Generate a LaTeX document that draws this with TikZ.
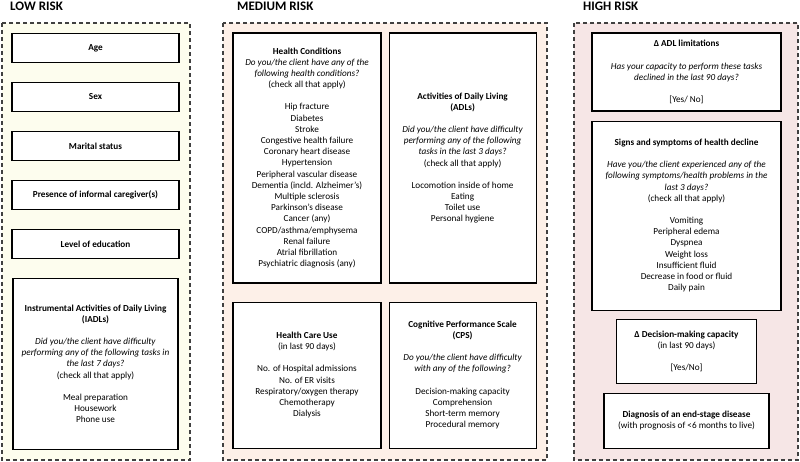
\documentclass[tikz,border=0pt]{standalone}
\usepackage{fontspec}
\setmainfont{Carlito}
\usetikzlibrary{positioning}
\definecolor{lowbg}{HTML}{FDFDEE}
\definecolor{medbg}{HTML}{FDF0E8}
\definecolor{highbg}{HTML}{F6E6E6}
\definecolor{zoneline}{HTML}{404040}

\begin{document}
\begin{tikzpicture}[x=1pt,y=-1pt,
    zone/.style={draw=zoneline,line width=1.1pt,dash pattern=on 4pt off 3pt},
    zone title/.style={anchor=base west,inner sep=0pt,font=\fontsize{13}{15}\selectfont\bfseries},
    item box/.style={draw,fill=white,line width=1.1pt,align=center,inner sep=0pt,
      font=\fontsize{9.2}{11.2}\selectfont},
    low box/.style={item box,minimum width=167pt,minimum height=29.5pt}]
    \useasboundingbox (0,0) rectangle (800,462);

    % risk zones
    \draw[zone,fill=lowbg] (2,23) rectangle (190,460);
    \draw[zone,fill=medbg] (223,23) rectangle (547,460);
    \draw[zone,fill=highbg] (574,23) rectangle (798,460);
    \node[zone title] (lowtitle) at (10,11) {LOW RISK};
    \node[zone title] (medtitle) at (237,11) {MEDIUM RISK};
    \node[zone title] (hightitle) at (583,11) {HIGH RISK};

    % low risk
    \node[low box] (age) at (95.5,48) {\textbf{Age}};
    \node[low box] (sex) [below=18.4pt of age] {\textbf{Sex}};
    \node[low box] (marital) [below=18.4pt of sex] {\textbf{Marital status}};
    \node[low box] (carer) [below=18.4pt of marital] {\textbf{Presence of informal caregiver(s)}};
    \node[low box] (edu) [below=18.4pt of carer] {\textbf{Level of education}};
    \node[item box,minimum width=165pt,minimum height=171pt] (iadl) [below=18.4pt of edu]
      {\textbf{Instrumental Activities of Daily Living}\\ \textbf{(IADLs)}\\[11pt]
       \textit{Did you/the client have difficulty}\\
       \textit{performing any of the following tasks in}\\
       \textit{the last 7 days?}\\ (check all that apply)\\[11pt]
       Meal preparation\\ Housework\\ Phone use};

    % medium risk
    \node[item box,minimum width=148pt,minimum height=250pt] (hc) at (307,158)
      {\textbf{Health Conditions}\\
       \textit{Do you/the client have any of the}\\
       \textit{following health conditions?}\\ (check all that apply)\\[11pt]
       Hip fracture\\ Diabetes\\ Stroke\\ Congestive health failure\\
       Coronary heart disease\\ Hypertension\\ Peripheral vascular disease\\
       Dementia (incld. Alzheimer’s)\\ Multiple sclerosis\\ Parkinson’s disease\\
       Cancer (any)\\ COPD/asthma/emphysema\\ Renal failure\\
       Atrial fibrillation\\ Psychiatric diagnosis (any)};
    \node[item box,minimum width=147pt,minimum height=250pt] (adl) [right=7pt of hc]
      {\textbf{Activities of Daily Living}\\ \textbf{(ADLs)}\\[11pt]
       \textit{Did you/the client have difficulty}\\
       \textit{performing any of the following}\\
       \textit{tasks in the last 3 days?}\\ (check all that apply)\\[11pt]
       Locomotion inside of home\\ Eating\\ Toilet use\\ Personal hygiene};
    \node[item box,minimum width=148pt,minimum height=146pt] (hcu) [below=18pt of hc]
      {\textbf{Health Care Use}\\ (in last 90 days)\\[11pt]
       No. of Hospital admissions\\ No. of ER visits\\
       Respiratory/oxygen therapy\\ Chemotherapy\\ Dialysis};
    \node[item box,minimum width=147pt,minimum height=146pt] (cps) [right=7pt of hcu]
      {\textbf{Cognitive Performance Scale}\\ \textbf{(CPS)}\\[11pt]
       \textit{Do you/the client have difficulty}\\
       \textit{with any of the following?}\\[11pt]
       Decision-making capacity\\ Comprehension\\
       Short-term memory\\ Procedural memory};

    % high risk
    \node[item box,minimum width=189pt,minimum height=78pt] (dadl) at (686.5,72)
      {\textbf{Δ ADL limitations}\\[11pt]
       \textit{Has your capacity to perform these tasks}\\
       \textit{declined in the last 90 days?}\\[11pt] {[Yes/ No]}};
    \node[item box,minimum width=189pt,minimum height=189pt] (signs) [below=9pt of dadl]
      {\textbf{Signs and symptoms of health decline}\\[11pt]
       \textit{Have you/the client experienced any of the}\\
       \textit{following symptoms/health problems in the}\\
       \textit{last 3 days?}\\ (check all that apply)\\[11pt]
       Vomiting\\ Peripheral edema\\ Dyspnea\\ Weight loss\\
       Insufficient fluid\\ Decrease in food or fluid\\ Daily pain};
    \node[item box,minimum width=140pt,minimum height=64pt] (ddec) [below=8pt of signs]
      {\textbf{Δ Decision-making capacity}\\ (in last 90 days)\\[11pt] {[Yes/No]}};
    \node[item box,minimum width=165pt,minimum height=55pt] (diag) [below=9pt of ddec]
      {\textbf{Diagnosis of an end-stage disease}\\ (with prognosis of <6 months to live)};
\end{tikzpicture}
\end{document}
